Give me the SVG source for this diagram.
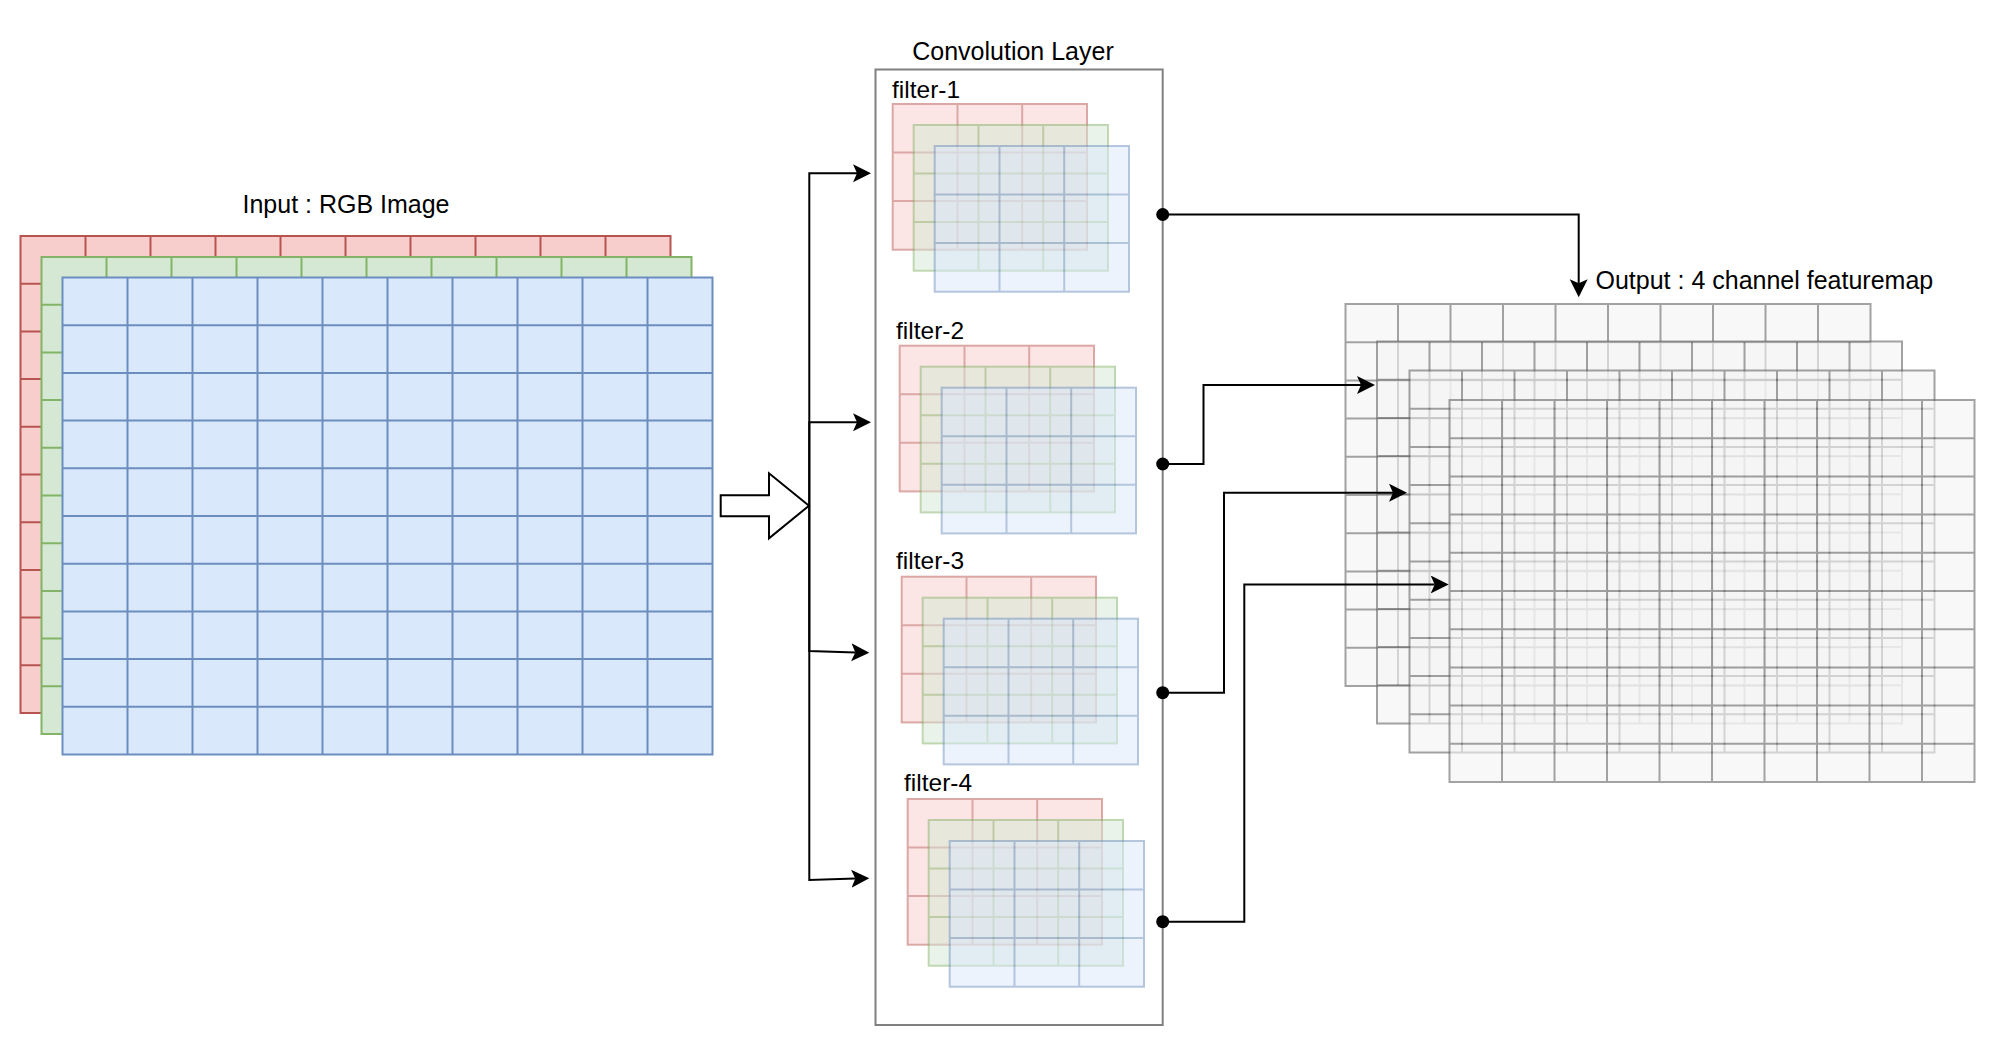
<svg xmlns="http://www.w3.org/2000/svg" xmlns:xlink="http://www.w3.org/1999/xlink" width="1999" height="1048" viewBox="0 0 1999 1048">
<style>
  text { font-family: "Liberation Sans", Arial, sans-serif; fill: #000; }
  .title { font-size: 25px; }
  .flabel { font-size: 24.5px; }
  .red { fill: #f8cecc; stroke: #b85450; stroke-width: 2; }
  .green { fill: #d5e8d4; stroke: #82b366; stroke-width: 2; }
  .blue { fill: #dae8fc; stroke: #6c8ebf; stroke-width: 2; }
  .flt { opacity: 0.5; }
  .out { fill: #f5f5f5; stroke: #666666; stroke-width: 2; opacity: 0.6; }
  .conn { fill: none; stroke: #000; stroke-width: 2; }
</style>
<defs>
  <g id="gIn">
    <rect x="0" y="0" width="650" height="477"/>
    <path fill="none" d="M65,0V477M130,0V477M195,0V477M260,0V477M325,0V477M390,0V477M455,0V477M520,0V477M585,0V477M0,47.7H650M0,95.4H650M0,143.1H650M0,190.8H650M0,238.5H650M0,286.2H650M0,333.9H650M0,381.6H650M0,429.3H650"/>
  </g>
  <g id="gF">
    <rect x="0" y="0" width="194.3" height="145.7"/>
    <path fill="none" d="M64.8,0V145.7M129.5,0V145.7M0,48.6H194.3M0,97.1H194.3"/>
  </g>
  <g id="filt">
    <use xlink:href="#gF" class="red flt"/>
    <use xlink:href="#gF" class="green flt" x="21" y="21"/>
    <use xlink:href="#gF" class="blue flt" x="42" y="42"/>
  </g>
  <g id="gOut">
    <rect x="0" y="0" width="525" height="382"/>
    <path fill="none" d="M52.5,0V382M105,0V382M157.5,0V382M210,0V382M262.5,0V382M315,0V382M367.5,0V382M420,0V382M472.5,0V382M0,38.2H525M0,76.4H525M0,114.6H525M0,152.8H525M0,191H525M0,229.2H525M0,267.4H525M0,305.6H525M0,343.8H525"/>
  </g>
  <marker id="arr" markerUnits="userSpaceOnUse" markerWidth="20" markerHeight="20" viewBox="0 0 20 20" refX="4" refY="9" orient="auto">
    <path d="M0,0 L18,9 L0,18 L4,9 Z" fill="#000"/>
  </marker>
  <marker id="dot" markerUnits="userSpaceOnUse" markerWidth="16" markerHeight="16" viewBox="0 0 16 16" refX="8" refY="8" orient="auto">
    <circle cx="8" cy="8" r="6.5" fill="#000"/>
  </marker>
</defs>

<g id="input-rgb">
  <text class="title" x="346" y="213" text-anchor="middle">Input : RGB Image</text>
  <use xlink:href="#gIn" class="red" x="20.5" y="236"/>
  <use xlink:href="#gIn" class="green" x="41.5" y="257"/>
  <use xlink:href="#gIn" class="blue" x="62.5" y="277.5"/>
</g>

<g id="block-arrow">
  <polygon points="720.7,495.3 769,495.3 769,473.3 809,505.7 769,538.3 769,516.3 720.7,516.3" fill="#fff" stroke="#000" stroke-width="2" stroke-linejoin="miter"/>
</g>

<g id="conv-layer">
  <text class="title" x="1013" y="59.5" text-anchor="middle">Convolution Layer</text>
  <rect x="875.5" y="69.5" width="287.2" height="955.5" fill="none" stroke="#808080" stroke-width="2"/>
</g>

<g id="filter-1">
  <text class="flabel" x="892" y="98">filter-1</text>
  <use xlink:href="#filt" x="892.7" y="104"/>
</g>
<g id="filter-2">
  <text class="flabel" x="896" y="338.5">filter-2</text>
  <use xlink:href="#filt" x="899.7" y="345.7"/>
</g>
<g id="filter-3">
  <text class="flabel" x="896" y="568.5">filter-3</text>
  <use xlink:href="#filt" x="901.7" y="576.7"/>
</g>
<g id="filter-4">
  <text class="flabel" x="904" y="791">filter-4</text>
  <use xlink:href="#filt" x="907.7" y="799"/>
</g>

<g id="output-featuremap">
  <text class="title" x="1595.5" y="289">Output : 4 channel featuremap</text>
  <use xlink:href="#gOut" class="out" x="1345.5" y="304"/>
  <use xlink:href="#gOut" class="out" x="1377" y="341.5"/>
  <use xlink:href="#gOut" class="out" x="1409.5" y="370.5"/>
  <use xlink:href="#gOut" class="out" x="1449.5" y="400"/>
</g>

<g id="connectors">
  <path class="conn" d="M809.3,505.7 V173.3 H857" marker-end="url(#arr)"/>
  <path class="conn" d="M809.3,505.7 V422.3 H857" marker-end="url(#arr)"/>
  <path class="conn" d="M809.3,505.7 V651 L855.3,652.4" marker-end="url(#arr)"/>
  <path class="conn" d="M809.3,505.7 V880 L855.3,878.6" marker-end="url(#arr)"/>
  <path class="conn" d="M1162.7,214.5 H1578.7 V283.3" marker-start="url(#dot)" marker-end="url(#arr)"/>
  <path class="conn" d="M1162.7,464 H1203.5 V385 H1361" marker-start="url(#dot)" marker-end="url(#arr)"/>
  <path class="conn" d="M1162.7,692.7 H1224 V492.7 H1393" marker-start="url(#dot)" marker-end="url(#arr)"/>
  <path class="conn" d="M1162.7,921.7 H1244.3 V584.5 H1434.7" marker-start="url(#dot)" marker-end="url(#arr)"/>
</g>
</svg>
